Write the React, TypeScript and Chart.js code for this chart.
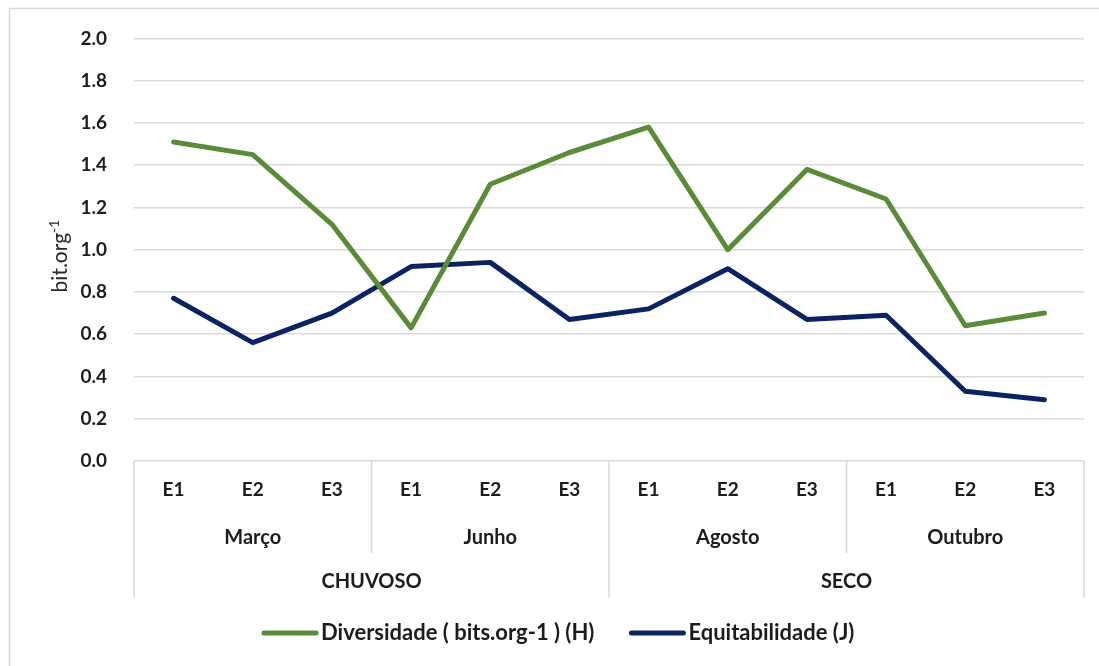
import React, { useEffect, useRef } from "react";
import { Chart, registerables } from "chart.js";

Chart.register(...registerables);

const stations = ["E1", "E2", "E3", "E1", "E2", "E3", "E1", "E2", "E3", "E1", "E2", "E3"];
const months = ["Março", "Junho", "Agosto", "Outubro"];
const seasons = ["CHUVOSO", "SECO"];
const diversidadeH = [1.51, 1.45, 1.12, 0.63, 1.31, 1.46, 1.58, 1.0, 1.38, 1.24, 0.64, 0.7];
const equitabilidadeJ = [0.77, 0.56, 0.7, 0.92, 0.94, 0.67, 0.72, 0.91, 0.67, 0.69, 0.33, 0.29];
const seriesNames = ["Diversidade ( bits.org-1 ) (H)", "Equitabilidade (J)"];
const yAxisTitle = "bit.org";
const yAxisTitleSup = "-1";

const FONT = "Lato";
const GREEN = "#5a8b39";
const NAVY = "#0b2461";
const GRID = "#d9d9d9";
const TEXT = "#1c1c1c";

export default function App() {
  const ref = useRef<HTMLCanvasElement>(null);

  useEffect(() => {
    const canvas = ref.current!;

    const tablePlugin = {
      id: "tableAxis",
      afterDraw(chart: any) {
        const ctx = chart.ctx as CanvasRenderingContext2D;
        const xs = chart.scales.x;
        const area = chart.chartArea;
        ctx.save();

        // outer frame
        ctx.strokeStyle = GRID;
        ctx.lineWidth = 1.5;
        ctx.beginPath();
        ctx.moveTo(9.5, 666);
        ctx.lineTo(9.5, 8.5);
        ctx.lineTo(1099, 8.5);
        ctx.stroke();

        const top = area.bottom;
        const monthBottom = top + 92;
        const bottom = top + 137;
        const step = xs.getPixelForValue(1) - xs.getPixelForValue(0);
        const edge = (i: number) => xs.getPixelForValue(i) - step / 2;

        ctx.beginPath();
        [0, 6, 12].forEach((i) => {
          ctx.moveTo(edge(i), top);
          ctx.lineTo(edge(i), bottom);
        });
        [3, 9].forEach((i) => {
          ctx.moveTo(edge(i), top);
          ctx.lineTo(edge(i), monthBottom);
        });
        ctx.stroke();

        ctx.fillStyle = TEXT;
        ctx.textAlign = "center";
        ctx.textBaseline = "middle";
        ctx.font = `bold 19px ${FONT}`;
        stations.forEach((s, i) => {
          ctx.fillText(s, xs.getPixelForValue(i), top + 29);
        });
        ctx.font = `bold 20px ${FONT}`;
        months.forEach((m, g) => {
          const cx = (xs.getPixelForValue(g * 3) + xs.getPixelForValue(g * 3 + 2)) / 2;
          ctx.fillText(m, cx, top + 77);
        });
        seasons.forEach((s, g) => {
          const cx = (xs.getPixelForValue(g * 6) + xs.getPixelForValue(g * 6 + 5)) / 2;
          ctx.fillText(s, cx, top + 121);
        });

        // y-axis title
        ctx.save();
        ctx.translate(60, 256);
        ctx.rotate(-Math.PI / 2);
        ctx.font = `21px ${FONT}`;
        const w1 = ctx.measureText(yAxisTitle).width;
        ctx.font = `14px ${FONT}`;
        const w2 = ctx.measureText(yAxisTitleSup).width;
        const start = -(w1 + w2) / 2;
        ctx.textAlign = "left";
        ctx.textBaseline = "alphabetic";
        ctx.fillStyle = "#262626";
        ctx.font = `21px ${FONT}`;
        ctx.fillText(yAxisTitle, start, 7);
        ctx.font = `14px ${FONT}`;
        ctx.fillText(yAxisTitleSup, start + w1, -1);
        ctx.restore();

        // legend
        const ly = 633;
        const boxW = 56;
        const gapText = 3;
        const gapItems = 35;
        ctx.font = `bold 22px ${FONT}`;
        const datasets = chart.data.datasets;
        let x = 262;
        datasets.forEach((d: any) => {
          ctx.strokeStyle = d.borderColor;
          ctx.lineWidth = 5;
          ctx.lineCap = "round";
          ctx.beginPath();
          ctx.moveTo(x + 2, ly);
          ctx.lineTo(x + boxW - 2, ly);
          ctx.stroke();
          ctx.fillStyle = TEXT;
          ctx.textAlign = "left";
          ctx.textBaseline = "middle";
          ctx.fillText(d.label, x + boxW + gapText, ly);
          x += boxW + gapText + ctx.measureText(d.label).width + gapItems;
        });

        ctx.restore();
      },
    };

    const chart = new Chart(canvas, {
      type: "line",
      data: {
        labels: stations,
        datasets: [
          {
            label: seriesNames[0],
            data: diversidadeH,
            borderColor: GREEN,
            backgroundColor: GREEN,
            borderWidth: 5,
            pointRadius: 0,
            tension: 0,
            borderJoinStyle: "round",
            borderCapStyle: "round",
          },
          {
            label: seriesNames[1],
            data: equitabilidadeJ,
            borderColor: NAVY,
            backgroundColor: NAVY,
            borderWidth: 5,
            pointRadius: 0,
            tension: 0,
            borderJoinStyle: "round",
            borderCapStyle: "round",
          },
        ],
      },
      options: {
        responsive: false,
        animation: false,
        devicePixelRatio: 1,
        layout: { padding: { top: 37, right: 15, bottom: 55, left: 0 } },
        plugins: { legend: { display: false }, tooltip: { enabled: false } },
        scales: {
          x: {
            type: "category",
            offset: true,
            grid: { display: false },
            border: { display: false },
            ticks: { display: false },
            afterFit: (s: any) => {
              s.height = 150;
            },
          },
          y: {
            min: 0,
            max: 2,
            ticks: {
              stepSize: 0.2,
              padding: 27,
              color: TEXT,
              font: { family: FONT, size: 19, weight: "bold" },
              callback: (v: any) => Number(v).toFixed(1),
            },
            grid: { color: GRID, lineWidth: 1.5, drawTicks: false },
            border: { display: false },
            afterFit: (s: any) => {
              s.width = 134;
            },
          },
        },
      },
      plugins: [tablePlugin],
    } as any);

    return () => chart.destroy();
  }, []);

  return (
    <div style={{ position: "fixed", left: 0, top: 0, width: 1099, height: 666, background: "#fff" }}>
      <canvas ref={ref} width={1099} height={666} style={{ display: "block" }} />
    </div>
  );
}
